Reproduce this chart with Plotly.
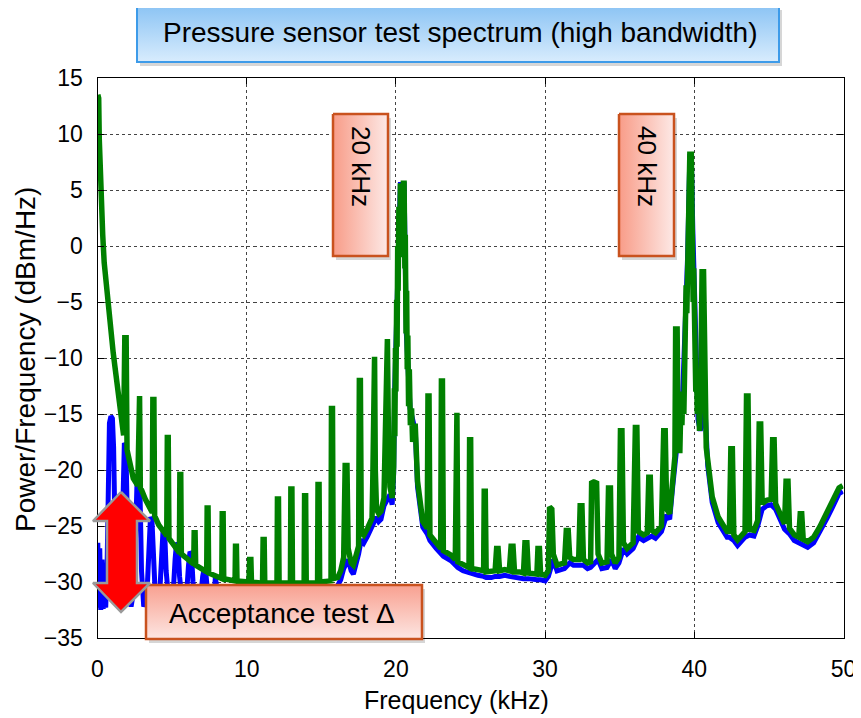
import plotly.graph_objects as go

# ---------------- data ----------------
# green trace: (frequency kHz, power dBm/Hz) vertices
green_points = [
    (0.02, 13.5), (0.08, 13.2), (0.12, 9.5), (0.17, 7.0), (0.21, 8.2), (0.26, 4.0),
    (0.35, 1.0), (0.45, -1.5), (0.55, -3.0), (0.72, -4.8), (0.85, -6.5), (0.95, -7.8),
    (1.05, -9.5), (1.17, -10.8), (1.3, -12.3), (1.45, -13.7), (1.6, -15.5), (1.75, -16.9),
    (1.83, -8.2), (1.92, -8.2), (1.98, -18.2), (2.07, -18.8), (2.25, -20.0), (2.4, -20.75),
    (2.7, -21.4), (2.74, -13.4), (2.82, -13.4), (2.87, -21.6), (2.96, -21.8), (3.2, -22.6), (3.6, -23.5),
    (3.67, -23.8), (3.71, -13.7), (3.78, -13.7), (3.83, -24.1), (4.1, -24.9), (4.6, -25.8),
    (4.64, -25.9), (4.68, -17.1), (4.74, -17.1), (4.79, -26.1), (5.2, -26.8), (5.45, -27.3),
    (5.49, -27.4), (5.52, -20.4), (5.58, -20.4), (5.62, -27.5), (6.1, -28.1), (6.4, -28.4),
    (6.45, -28.4), (6.48, -25.6), (6.54, -25.6), (6.58, -28.5), (7.2, -29.1), (7.3, -29.1),
    (7.32, -29.1), (7.35, -23.4), (7.41, -23.4), (7.45, -29.2), (8.3, -29.6),
    (8.33, -29.7), (8.36, -23.9), (8.42, -23.9), (8.46, -29.7), (9.2, -29.9),
    (9.22, -29.9), (9.25, -26.8), (9.31, -26.8), (9.35, -29.9), (10.12, -30.0),
    (10.15, -30.0), (10.2, -28.0), (10.28, -28.0), (10.32, -30.0), (11.03, -30.1),
    (11.06, -30.1), (11.1, -26.2), (11.17, -26.2), (11.21, -30.1), (12.0, -30.1),
    (12.03, -30.1), (12.06, -22.6), (12.13, -22.6), (12.17, -30.1), (12.9, -30.1),
    (12.93, -30.1), (12.96, -21.7), (13.03, -21.7), (13.07, -30.1), (13.82, -30.1),
    (13.85, -30.1), (13.88, -22.3), (13.95, -22.3), (13.99, -30.1), (14.72, -30.1),
    (14.75, -30.1), (14.78, -21.3), (14.85, -21.3), (14.89, -30.0), (15.62, -29.9),
    (15.65, -29.9), (15.68, -14.5), (15.75, -14.5), (15.8, -29.7), (16.1, -29.6),
    (16.3, -29.0), (16.5, -27.8), (16.6, -19.6), (16.72, -19.6), (16.8, -27.0), (17.0, -28.3),
    (17.15, -28.5), (17.35, -27.5), (17.5, -26.8), (17.55, -12.0), (17.62, -12.0),
    (17.68, -25.5), (17.85, -25.8), (18.1, -25.2), (18.4, -24.3), (18.45, -21.0),
    (18.5, -9.9), (18.57, -9.9), (18.62, -20.0), (18.7, -23.5), (18.85, -23.9), (19.0, -23.7),
    (19.2, -22.5), (19.3, -16.0), (19.36, -8.3), (19.43, -8.3), (19.5, -17.0), (19.6, -21.5),
    (19.75, -22.5), (19.85, -19.7), (19.9, -12.7), (19.93, -17.0), (19.97, -9.1),
    (20.0, -13.0), (20.05, -4.8), (20.08, -9.0), (20.12, 0.0), (20.15, -4.0), (20.2, 3.5),
    (20.25, -1.0), (20.3, 5.6), (20.35, 1.0), (20.4, 5.6), (20.45, 0.0), (20.5, 5.6),
    (20.55, 5.6), (20.6, -2.0), (20.63, 1.0), (20.68, -7.8), (20.72, -4.0), (20.76, -11.0),
    (20.8, -8.0), (20.85, -14.3), (20.9, -11.0), (20.97, -16.0), (21.05, -14.5),
    (21.12, -17.5), (21.2, -16.1), (21.3, -16.1), (21.45, -21.0), (21.8, -24.6),
    (22.1, -25.2), (22.15, -13.4), (22.22, -13.4), (22.28, -25.8), (22.7, -26.5),
    (23.0, -27.0), (23.05, -12.05), (23.12, -12.05), (23.18, -27.2), (23.7, -27.6),
    (23.98, -28.0), (24.02, -14.9), (24.09, -14.9), (24.15, -28.2), (24.5, -28.5),
    (24.9, -28.7), (24.94, -17.3), (25.01, -17.3), (25.07, -28.8), (25.5, -28.9),
    (25.88, -29.0), (25.92, -21.9), (25.99, -21.9), (26.05, -29.1), (26.4, -29.1),
    (26.65, -29.0), (26.75, -27.0), (26.85, -27.0), (26.95, -29.0), (27.3, -28.9),
    (27.6, -29.0), (27.72, -26.8), (27.85, -26.8), (27.95, -29.1), (28.3, -29.1),
    (28.55, -29.2), (28.65, -26.5), (28.78, -26.5), (28.88, -29.2), (29.2, -29.3),
    (29.45, -29.3), (29.52, -27.0), (29.62, -27.0), (29.7, -29.3), (30.0, -29.4),
    (30.22, -29.0), (30.3, -23.3), (30.45, -23.5), (30.55, -27.5), (30.8, -28.5),
    (31.3, -28.3), (31.42, -25.4), (31.55, -25.4), (31.65, -27.8), (31.9, -28.0),
    (32.25, -28.0), (32.35, -23.2), (32.47, -23.2), (32.57, -28.0), (32.85, -28.3),
    (33.05, -28.2), (33.12, -21.0), (33.3, -21.2), (33.45, -21.0), (33.55, -27.5), (33.8, -28.3),
    (34.15, -28.2), (34.25, -21.6), (34.38, -21.6), (34.45, -27.5), (34.7, -28.3),
    (34.95, -27.8), (35.05, -16.5), (35.15, -16.5), (35.25, -26.5), (35.5, -27.0),
    (35.9, -26.5), (36.05, -16.2), (36.15, -16.2), (36.25, -25.5), (36.6, -25.8),
    (36.85, -25.6), (36.95, -20.65), (37.05, -20.65), (37.15, -25.4), (37.4, -25.6),
    (37.8, -25.0), (37.95, -16.5), (38.05, -16.5), (38.15, -23.5), (38.35, -23.9),
    (38.55, -21.0), (38.7, -18.8), (38.75, -7.4), (38.85, -7.4), (38.92, -18.0),
    (38.97, -15.0), (39.03, -18.5), (39.1, -14.0), (39.17, -16.0), (39.23, -13.0),
    (39.3, -15.0), (39.35, -9.0), (39.4, -11.0), (39.45, -3.5), (39.5, -6.0), (39.55, -0.5),
    (39.6, -2.0), (39.65, 4.0), (39.7, 8.2), (39.8, 8.2), (39.85, 0.0), (39.88, 2.0),
    (39.92, -5.0), (39.96, -2.0), (40.0, -9.0), (40.05, -7.0), (40.1, -13.0), (40.15, -11.0),
    (40.2, -15.0), (40.28, -14.0), (40.35, -16.5), (40.42, -14.0), (40.47, -8.0),
    (40.52, -2.3), (40.62, -2.3), (40.67, -10.0), (40.72, -14.0), (40.8, -18.0),
    (40.9, -19.1), (41.2, -22.4), (41.6, -24.2), (42.2, -25.5),
    (42.35, -25.5), (42.45, -18.1), (42.55, -18.1), (42.65, -25.8), (42.9, -26.25), (43.2, -25.7),
    (43.4, -25.5), (43.5, -13.4), (43.6, -13.4), (43.7, -25.3), (44.0, -25.4),
    (44.25, -24.5), (44.35, -15.9), (44.45, -15.9), (44.55, -23.0), (44.85, -22.7),
    (45.15, -22.6), (45.25, -17.3), (45.35, -17.3), (45.45, -23.0), (45.9, -24.4),
    (46.05, -24.8), (46.15, -21.0), (46.28, -21.0), (46.38, -25.2), (46.7, -25.8),
    (47.0, -26.0), (47.1, -23.9), (47.2, -23.9), (47.3, -26.2), (47.6, -26.4), (48.0, -26.0),
    (48.4, -25.1), (48.9, -23.8), (49.2, -23.0), (49.7, -21.6), (49.95, -21.4),
]

# blue trace: (frequency kHz, power dBm/Hz) vertices
blue_points = [
    (0.02, -26.5), (0.08, -32.3), (0.15, -27.0), (0.22, -32.5), (0.3, -28.0), (0.38, -32.4),
    (0.45, -30.0), (0.55, -32.3), (0.65, -28.0), (0.72, -20.0), (0.8, -15.8), (0.9, -15.2),
    (1.0, -15.4), (1.08, -18.0), (1.15, -25.0), (1.25, -31.5), (1.4, -32.2), (1.55, -30.0),
    (1.65, -26.0), (1.72, -19.0), (1.8, -17.6), (1.9, -17.8), (1.98, -22.0), (2.1, -31.0),
    (2.25, -32.2), (2.4, -31.0), (2.55, -26.0), (2.65, -21.0), (2.75, -20.9), (2.85, -22.0),
    (2.95, -29.0), (3.1, -32.2), (3.3, -31.5), (3.45, -28.0), (3.55, -24.2), (3.65, -24.5),
    (3.75, -28.0), (3.9, -32.0), (4.15, -31.5), (4.3, -28.0), (4.4, -25.2), (4.5, -25.4),
    (4.6, -29.0), (4.8, -32.0), (5.05, -31.5), (5.2, -28.0), (5.3, -26.5), (5.4, -26.7),
    (5.5, -29.5), (5.7, -32.0), (5.95, -31.5), (6.1, -28.5), (6.2, -27.3), (6.3, -27.5),
    (6.4, -30.0), (6.6, -32.0), (6.9, -31.5), (7.05, -29.5), (7.15, -28.8), (7.25, -29.0),
    (7.35, -30.5), (7.6, -32.0), (7.8, -31.5), (7.9, -29.6), (8.0, -30.5), (8.3, -30.8),
    (10.0, -30.9), (15.9, -30.6), (16.1, -30.3), (16.3, -29.8), (16.5, -28.8), (16.8, -28.0),
    (17.0, -29.0), (17.15, -29.3), (17.35, -28.3), (17.5, -27.5), (17.68, -26.2), (17.85, -26.5),
    (18.1, -25.9), (18.4, -25.0), (18.7, -24.2), (18.85, -24.6), (19.0, -24.4), (19.2, -23.2),
    (19.6, -22.2), (19.75, -23.1), (19.85, -20.3), (19.92, -12.7), (20.05, -4.8), (20.3, 5.5),
    (20.55, 5.5), (20.7, -7.8), (20.95, -14.5), (21.3, -16.5), (21.45, -21.5), (21.8, -25.1),
    (22.1, -25.7), (22.28, -26.3), (22.7, -27.0), (23.0, -27.5), (23.18, -27.7), (23.7, -28.1),
    (23.98, -28.5), (24.15, -28.7), (24.5, -29.0), (24.9, -29.2), (25.07, -29.3), (25.5, -29.4),
    (25.88, -29.5), (26.05, -29.6), (26.4, -29.6), (26.65, -29.5), (26.95, -29.5), (27.3, -29.4),
    (27.6, -29.5), (27.95, -29.6), (28.3, -29.6), (28.55, -29.7), (28.88, -29.7), (29.2, -29.8),
    (29.45, -29.8), (29.7, -29.8), (30.0, -29.9), (30.22, -29.5), (30.55, -28.0), (30.8, -29.0),
    (31.3, -28.8), (31.65, -28.3), (31.9, -28.5), (32.25, -28.5), (32.57, -28.5), (32.85, -28.8),
    (33.05, -28.7), (33.55, -28.0), (33.8, -28.8), (34.15, -28.7), (34.45, -28.0), (34.7, -28.8),
    (34.95, -28.3), (35.25, -27.0), (35.5, -27.5), (35.9, -27.0), (36.25, -26.0), (36.6, -26.3),
    (36.85, -26.1), (37.15, -25.9), (37.4, -26.1), (37.8, -25.5), (38.15, -24.0), (38.35, -24.4),
    (38.55, -21.5), (38.7, -19.3), (38.95, -15.5), (39.1, -14.5), (39.2, -14.0), (39.35, -9.5),
    (39.45, -4.0), (39.55, -1.0), (39.7, 8.0), (39.8, 8.0), (39.9, 1.5), (40.0, -2.5),
    (40.1, -8.5), (40.25, -15.5), (40.4, -16.5), (40.72, -14.5), (40.9, -19.6), (41.2, -22.9),
    (41.6, -24.7), (42.2, -26.0), (42.35, -26.0), (42.65, -26.3), (42.9, -26.75), (43.2, -26.2),
    (43.4, -26.0), (43.7, -25.8), (44.0, -25.9), (44.25, -25.0), (44.55, -23.5), (44.85, -23.2),
    (45.15, -23.1), (45.45, -23.5), (45.9, -24.9), (46.05, -25.3), (46.38, -25.7), (46.7, -26.3),
    (47.0, -26.5), (47.3, -26.7), (47.6, -26.9), (48.0, -26.5), (48.4, -25.6), (48.9, -24.3),
    (49.2, -23.5), (49.7, -22.1), (49.95, -21.9),
]

green_freq = [p[0] for p in green_points]
green_db = [p[1] for p in green_points]
blue_freq = [p[0] for p in blue_points]
blue_db = [p[1] for p in blue_points]

x_ticks = [0, 10, 20, 30, 40, 50]
y_ticks = [15, 10, 5, 0, -5, -10, -15, -20, -25, -30, -35]

title_text = "Pressure sensor test spectrum (high bandwidth)"
peak_labels = ["20 kHz", "40 kHz"]
delta_text = "Acceptance test \u0394"
x_title = "Frequency (kHz)"
y_title = "Power/Frequency (dBm/Hz)"

# ---------------- layout helpers ----------------
OFF = 8                      # page body margin
W, H = 861 - OFF, 718 - OFF
PL, PR, PT, PB = 97.5 - OFF, 843.5 - OFF, 78 - OFF, 638 - OFF  # plot area, figure px
FONT = "Liberation Sans, Arial, Helvetica, sans-serif"

fig = go.Figure()

fig.add_trace(go.Scatter(x=blue_freq, y=blue_db, mode="lines",
                         line=dict(color="#0000ff", width=5), hoverinfo="skip",
                         showlegend=False))
fig.add_trace(go.Scatter(x=green_freq, y=green_db, mode="lines",
                         line=dict(color="#008000", width=5.5), hoverinfo="skip",
                         showlegend=False))


def P(v):
    return v - OFF


def box(x0, y0, x1, y1, grad_type, c_start, c_end, border, bw=2.5):
    x0, y0, x1, y1 = P(x0), P(y0), P(x1), P(y1)
    fig.add_trace(go.Scatter(x=[x0 + 3, x1 + 3, x1 + 3, x0 + 3, x0 + 3],
                             y=[y0 + 4, y0 + 4, y1 + 4, y1 + 4, y0 + 4],
                             mode="lines", fill="toself", fillcolor="rgba(0,0,0,0.16)",
                             line=dict(width=0), xaxis="x2", yaxis="y2",
                             hoverinfo="skip", showlegend=False))
    fig.add_trace(go.Scatter(x=[x0, x1, x1, x0, x0], y=[y0, y0, y1, y1, y0],
                             mode="lines", fill="toself",
                             fillgradient=dict(type=grad_type,
                                               colorscale=[[0, c_start], [1, c_end]]),
                             line=dict(color=border, width=bw), xaxis="x2", yaxis="y2",
                             hoverinfo="skip", showlegend=False))


box(137, 6, 779, 62, "vertical", "#d8ecfd", "#8cc4f4", "#3d9be9", 2)
box(333, 114, 388, 256, "horizontal", "#f89c88", "#fde9e6", "#c9521e")
box(619, 114, 674, 256, "horizontal", "#f89c88", "#fde9e6", "#c9521e")
box(146, 585, 422, 639, "vertical", "#fde6e2", "#f8a090", "#c9521e")

# red double arrow
ax_ = [P(v) for v in [121, 150, 137, 137, 150, 121, 93, 107, 107, 93, 121]]
ay_ = [P(v) for v in [492, 521, 521, 583, 583, 612, 583, 583, 521, 521, 492]]
fig.add_trace(go.Scatter(x=ax_, y=ay_, mode="lines", fill="toself", fillcolor="#ff0000",
                         line=dict(color="#9a9a9a", width=2.5), xaxis="x2", yaxis="y2",
                         hoverinfo="skip", showlegend=False))


def ann(px, py, text, size, angle=0):
    return dict(x=P(px) / W, y=1 - P(py) / H, text=text, textangle=angle,
                xref="paper", yref="paper", showarrow=False,
                xanchor="center", yanchor="middle",
                font=dict(family=FONT, size=size, color="black"))


annots = [
    ann(460, 33, title_text, 28),
    ann(361, 166, peak_labels[0], 26, 90),
    ann(647, 166, peak_labels[1], 26, 90),
    ann(282, 613, delta_text, 28),
    ann(457, 700, x_title, 25),
    ann(25, 360, y_title, 28, -90),
]

axis_common = dict(showline=True, linecolor="black", linewidth=1.2, mirror="ticks",
                   ticks="inside", ticklen=6, tickcolor="black", showgrid=True,
                   gridcolor="#444444", griddash="dot", gridwidth=1, zeroline=False,
                   tickfont=dict(family=FONT, size=23, color="black"), automargin=False)

fig.update_layout(
    width=W, height=H,
    margin=dict(l=0, r=0, t=0, b=0),
    paper_bgcolor="white", plot_bgcolor="rgba(0,0,0,0)",
    xaxis=dict(domain=[PL / W, PR / W], range=[0, 50], tickvals=x_ticks,
               ticklabelstandoff=10, **axis_common),
    yaxis=dict(domain=[1 - PB / H, 1 - PT / H], range=[-35, 15], tickvals=y_ticks,
               ticklabelstandoff=9, **axis_common),
    xaxis2=dict(domain=[0, 1], range=[0, W], visible=False, anchor="y2"),
    yaxis2=dict(domain=[0, 1], range=[H, 0], visible=False, anchor="x2"),
    annotations=annots,
    showlegend=False,
)

fig.write_html("out.html")
